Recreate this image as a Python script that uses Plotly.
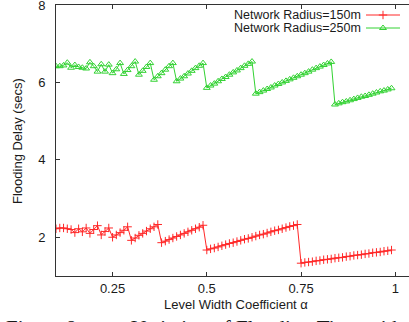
import plotly.graph_objects as go

alpha = [round(0.10 + 0.01 * i, 2) for i in range(90)]

delay_150 = [
    2.22, 2.24, 2.24, 2.22, 2.20, 2.12, 2.22, 2.14, 2.24, 2.10,
    2.20, 2.30, 2.06, 2.15, 2.24, 2.00, 2.06, 2.12, 2.18, 2.27,
    1.92, 1.98, 2.05, 2.10, 2.16, 2.22, 2.27, 2.33, 1.86, 1.90,
    1.94, 1.98, 2.02, 2.06, 2.10, 2.14, 2.18, 2.22, 2.26, 2.31,
    1.67, 1.70, 1.72, 1.75, 1.78, 1.81, 1.84, 1.86, 1.89, 1.92,
    1.95, 1.97, 2.00, 2.03, 2.06, 2.08, 2.11, 2.14, 2.17, 2.19,
    2.22, 2.25, 2.28, 2.30, 2.33, 1.33, 1.35, 1.36, 1.37, 1.39,
    1.40, 1.42, 1.43, 1.44, 1.46, 1.47, 1.48, 1.50, 1.51, 1.53,
    1.54, 1.55, 1.57, 1.58, 1.60, 1.61, 1.62, 1.64, 1.65, 1.67,
]

delay_250 = [
    6.42, 6.42, 6.44, 6.51, 6.38, 6.45, 6.40, 6.38, 6.36, 6.52,
    6.42, 6.28, 6.47, 6.28, 6.46, 6.24, 6.34, 6.50, 6.22, 6.32,
    6.42, 6.54, 6.20, 6.30, 6.40, 6.50, 6.07, 6.16, 6.24, 6.33,
    6.42, 6.50, 6.03, 6.10, 6.16, 6.23, 6.30, 6.37, 6.43, 6.50,
    5.86, 5.92, 5.97, 6.03, 6.09, 6.14, 6.20, 6.26, 6.31, 6.37,
    6.43, 6.48, 6.54, 5.71, 5.75, 5.79, 5.83, 5.87, 5.92, 5.96,
    6.00, 6.04, 6.08, 6.12, 6.16, 6.20, 6.24, 6.28, 6.33, 6.37,
    6.41, 6.45, 6.49, 6.53, 5.43, 5.46, 5.49, 5.51, 5.54, 5.57,
    5.60, 5.63, 5.65, 5.68, 5.71, 5.74, 5.77, 5.79, 5.82, 5.85,
]

series_names = ["Network Radius=150m", "Network Radius=250m"]
x_ticks = [0.25, 0.5, 0.75, 1]
x_tick_labels = ["0.25", "0.5", "0.75", "1"]
y_ticks = [2, 4, 6, 8]

RED = "rgb(255,40,40)"
GREEN = "rgb(50,210,50)"
FONT = "Liberation Sans, Arial, sans-serif"
TXT = "#1a1a1a"

W, H = 409, 322
ML, MR, MT, MB = 56, 0, 5, 46
PW, PH = W - ML - MR, H - MT - MB
px_per_unit = 377.0
x_max = 0.10 + PW / px_per_unit


def px_x(p):
    return (p - ML) / PW


def px_y(p):
    return (H - MB - p) / PH


fig = go.Figure()
fig.add_trace(go.Scatter(
    x=alpha, y=delay_150, mode="lines+markers", name=series_names[0],
    line=dict(color=RED, width=1),
    marker=dict(symbol="cross-thin", size=6, line=dict(color=RED, width=1)),
    showlegend=False,
))
fig.add_trace(go.Scatter(
    x=alpha, y=delay_250, mode="lines+markers", name=series_names[1],
    line=dict(color=GREEN, width=1),
    marker=dict(symbol="triangle-up-open", size=6, color=GREEN, line=dict(color=GREEN, width=1)),
    showlegend=False,
))

# gnuplot-style key (text then sample) on an overlay axis measured in pixels
key_rows_y = [15, 28]
key_styles = [
    dict(line=dict(color=RED, width=1), marker=dict(symbol="cross-thin", size=6, line=dict(color=RED, width=1))),
    dict(line=dict(color=GREEN, width=1), marker=dict(symbol="triangle-up-open", size=6, color=GREEN, line=dict(color=GREEN, width=1))),
]
for name, yk, st in zip(series_names, key_rows_y, key_styles):
    fig.add_trace(go.Scatter(x=[366, 400], y=[yk, yk], mode="lines", xaxis="x2", yaxis="y2",
                             showlegend=False, hoverinfo="skip", cliponaxis=False, line=st["line"]))
    fig.add_trace(go.Scatter(x=[383], y=[yk], mode="markers", xaxis="x2", yaxis="y2",
                             showlegend=False, hoverinfo="skip", cliponaxis=False, marker=st["marker"]))
    fig.add_annotation(x=px_x(363), y=px_y(yk), xref="paper", yref="paper", text=name, showarrow=False,
                       xanchor="right", yanchor="middle",
                       font=dict(family=FONT, size=12.5, color=TXT))

axis_common = dict(showgrid=False, zeroline=False, showline=True, linecolor="#333", linewidth=1,
                   ticks="inside", ticklen=4, tickcolor="#333", automargin=False,
                   ticklabeloverflow="allow",
                   tickfont=dict(family=FONT, size=13, color=TXT))

fig.update_layout(
    width=W, height=H,
    margin=dict(l=ML, r=MR, t=MT, b=MB, pad=0),
    paper_bgcolor="white", plot_bgcolor="white",
    xaxis=dict(range=[0.10, x_max], tickvals=x_ticks, ticktext=x_tick_labels, mirror="ticks",
               ticklabelstandoff=0, **axis_common),
    yaxis=dict(range=[0.999, 8.001], tickvals=y_ticks, mirror=False, ticklabelstandoff=7,
               **axis_common),
    xaxis2=dict(range=[ML, W - MR], overlaying="x", visible=False, fixedrange=True),
    yaxis2=dict(range=[H - MB, MT], overlaying="y", visible=False, fixedrange=True),
    showlegend=False,
)

# axis titles
fig.add_annotation(x=px_x(236), y=px_y(304), xref="paper", yref="paper", text="Level Width Coefficient α",
                   showarrow=False, xanchor="center", yanchor="middle",
                   font=dict(family=FONT, size=13, color=TXT))
fig.add_annotation(x=px_x(17), y=px_y(141), xref="paper", yref="paper", text="Flooding Delay (secs)",
                   showarrow=False, xanchor="center", yanchor="middle", textangle=-90,
                   font=dict(family=FONT, size=13, color=TXT))

# clipped figure caption below the chart
SERIF = "Liberation Serif, Times New Roman, serif"
fig.add_annotation(x=px_x(4), y=px_y(314), xref="paper", yref="paper", xanchor="left", yanchor="top",
                   text="Figure 8:", showarrow=False,
                   font=dict(family=SERIF, size=21, color=TXT))
fig.add_annotation(x=px_x(405), y=px_y(314), xref="paper", yref="paper", xanchor="right", yanchor="top",
                   text="Variation of Flooding Time with", showarrow=False,
                   font=dict(family=SERIF, size=21, color=TXT))

fig.write_html("out.html")
